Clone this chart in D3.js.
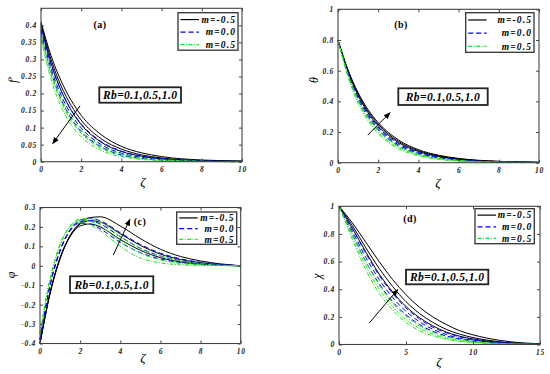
<!DOCTYPE html>
<html>
<head>
<meta charset="utf-8">
<script src="https://cdn.jsdelivr.net/npm/d3@7"></script>
<style>
  body { margin: 0; background: #fff; }
  text { font-family: "Liberation Serif", "Times New Roman", serif; }
</style>
</head>
<body>
<script>
// ---- data (one row per Rb = 0.1, 0.5, 1.0) ----

// (a) velocity f'
var zetaA = [0, 0.5, 1, 1.5, 2, 3, 4, 5, 6, 8, 10];
var fpMneg05 = [
  [0.410, 0.311, 0.237, 0.180, 0.136, 0.079, 0.045, 0.026, 0.015, 0.005, 0.002],
  [0.405, 0.300, 0.222, 0.165, 0.122, 0.067, 0.037, 0.020, 0.011, 0.003, 0.001],
  [0.400, 0.289, 0.209, 0.151, 0.109, 0.057, 0.030, 0.016, 0.008, 0.002, 0.001]
];
var fpM00 = [
  [0.390, 0.285, 0.208, 0.152, 0.111, 0.059, 0.031, 0.017, 0.009, 0.003, 0.001],
  [0.385, 0.274, 0.195, 0.139, 0.099, 0.050, 0.025, 0.013, 0.007, 0.002, 0.000],
  [0.380, 0.264, 0.183, 0.127, 0.088, 0.043, 0.020, 0.010, 0.005, 0.001, 0.000]
];
var fpM05 = [
  [0.375, 0.264, 0.186, 0.131, 0.092, 0.046, 0.023, 0.011, 0.006, 0.001, 0.000],
  [0.370, 0.254, 0.175, 0.120, 0.083, 0.039, 0.018, 0.009, 0.004, 0.001, 0.000],
  [0.360, 0.241, 0.162, 0.108, 0.073, 0.033, 0.015, 0.007, 0.003, 0.001, 0.000]
];

// (b) temperature theta
var zetaB = [0, 0.5, 1, 1.5, 2, 3, 4, 5, 6, 8, 10];
var thMneg05 = [
  [0.800, 0.593, 0.439, 0.325, 0.241, 0.132, 0.073, 0.040, 0.022, 0.007, 0.002],
  [0.800, 0.599, 0.448, 0.335, 0.251, 0.140, 0.079, 0.044, 0.025, 0.008, 0.002],
  [0.800, 0.605, 0.457, 0.345, 0.261, 0.149, 0.085, 0.049, 0.028, 0.009, 0.003]
];
var thM00 = [
  [0.800, 0.575, 0.414, 0.297, 0.214, 0.110, 0.057, 0.030, 0.015, 0.004, 0.001],
  [0.800, 0.581, 0.422, 0.306, 0.222, 0.117, 0.062, 0.033, 0.017, 0.005, 0.001],
  [0.800, 0.587, 0.430, 0.316, 0.232, 0.125, 0.067, 0.036, 0.019, 0.006, 0.002]
];
var thM05 = [
  [0.800, 0.558, 0.389, 0.272, 0.190, 0.092, 0.045, 0.022, 0.011, 0.003, 0.001],
  [0.800, 0.567, 0.401, 0.284, 0.201, 0.101, 0.051, 0.025, 0.013, 0.003, 0.001],
  [0.800, 0.575, 0.414, 0.297, 0.214, 0.110, 0.057, 0.030, 0.015, 0.004, 0.001]
];

// (c) concentration phi
var zetaC = [0, 0.5, 1, 1.5, 2, 2.5, 3, 4, 5, 6, 7, 8, 10];
var phMneg05 = [
  [-0.40, -0.14, 0.040, 0.150, 0.205, 0.215, 0.200, 0.135, 0.080, 0.042, 0.020, 0.009, 0.0],
  [-0.40, -0.14, 0.040, 0.155, 0.215, 0.232, 0.225, 0.165, 0.105, 0.060, 0.032, 0.016, 0.0],
  [-0.40, -0.145, 0.035, 0.155, 0.220, 0.248, 0.252, 0.205, 0.140, 0.085, 0.048, 0.025, 0.0]
];
var phM00 = [
  [-0.38, -0.10, 0.080, 0.180, 0.220, 0.215, 0.190, 0.120, 0.068, 0.035, 0.017, 0.008, 0.0],
  [-0.38, -0.10, 0.080, 0.185, 0.228, 0.232, 0.215, 0.150, 0.090, 0.050, 0.026, 0.012, 0.0],
  [-0.38, -0.10, 0.075, 0.185, 0.235, 0.245, 0.232, 0.170, 0.110, 0.065, 0.036, 0.018, 0.0]
];
var phM05 = [
  [-0.35, -0.07, 0.110, 0.200, 0.225, 0.210, 0.180, 0.100, 0.040, 0.015, 0.005, 0.002, 0.0],
  [-0.35, -0.07, 0.110, 0.205, 0.235, 0.228, 0.205, 0.125, 0.065, 0.030, 0.012, 0.005, 0.0],
  [-0.35, -0.07, 0.105, 0.205, 0.240, 0.242, 0.225, 0.150, 0.090, 0.050, 0.025, 0.011, 0.0]
];

// (d) microorganism chi
var zetaD = [0, 1, 2, 3, 4, 5, 6, 7, 8, 9, 10, 12, 15];
var chMneg05 = [
  [1, 0.84, 0.67, 0.51, 0.38, 0.275, 0.195, 0.135, 0.090, 0.060, 0.040, 0.015, 0.002],
  [1, 0.86, 0.70, 0.55, 0.42, 0.310, 0.225, 0.160, 0.110, 0.075, 0.050, 0.020, 0.003],
  [1, 0.88, 0.74, 0.60, 0.47, 0.360, 0.270, 0.200, 0.145, 0.100, 0.070, 0.030, 0.005]
];
var chM00 = [
  [1, 0.80, 0.60, 0.44, 0.31, 0.215, 0.145, 0.095, 0.062, 0.040, 0.025, 0.009, 0.001],
  [1, 0.82, 0.63, 0.47, 0.34, 0.240, 0.165, 0.110, 0.072, 0.046, 0.030, 0.011, 0.001],
  [1, 0.84, 0.66, 0.50, 0.37, 0.265, 0.185, 0.125, 0.085, 0.056, 0.036, 0.014, 0.002]
];
var chM05 = [
  [1, 0.76, 0.54, 0.37, 0.25, 0.160, 0.100, 0.062, 0.038, 0.023, 0.014, 0.005, 0.001],
  [1, 0.78, 0.57, 0.40, 0.275, 0.180, 0.118, 0.075, 0.046, 0.028, 0.017, 0.006, 0.001],
  [1, 0.80, 0.60, 0.43, 0.30, 0.205, 0.135, 0.088, 0.056, 0.035, 0.022, 0.008, 0.001]
];

var mLabels = ["m=-0.5", "m=0.0", "m=0.5"];
var rbLabel = "Rb=0.1,0.5,1.0";

// line styles for the three m values
var styles = [
  {color: "#000", dash: null},
  {color: "#0000ff", dash: "5,3"},
  {color: "#1ee61e", dash: "4,1.5,1,1.5"}
];

var svg = d3.select("body").append("svg")
    .attr("width", 550)
    .attr("height", 374);

svg.append("defs").append("marker")
    .attr("id", "arrow")
    .attr("viewBox", "0 0 10 10")
    .attr("refX", 9).attr("refY", 5)
    .attr("markerWidth", 7).attr("markerHeight", 7)
    .attr("orient", "auto")
  .append("path")
    .attr("d", "M0,1 L10,5 L0,9 z")
    .attr("fill", "#000");

var fmt = function(d) { return String(+d.toFixed(2)); };

var panels = [
  {l: 41, r: 242, t: 8.3, b: 161.7, xd: [0, 10], yd: [0, 0.45],
   xt: d3.range(0, 10.1, 2), yt: d3.range(0, 0.401, 0.05),
   z: zetaA, series: [fpMneg05, fpM00, fpM05],
   ylab: "f\u2032", ylabPos: [13, 80], xlabPos: [143, 186],
   tag: "(a)", tagPos: [100, 27.5],
   leg: [178, 12.7, 60, 37.5], rb: [99.3, 87.3, 81.7, 15.4],
   arrow: [[1.94, 0.164], [0.58, 0.053]]},
  {l: 338, r: 539, t: 9.3, b: 162.7, xd: [0, 10], yd: [0, 1],
   xt: d3.range(0, 10.1, 2), yt: d3.range(0, 1.01, 0.2),
   z: zetaB, series: [thMneg05, thM00, thM05],
   ylab: "\u03b8", ylabPos: [314, 80], xlabPos: [438, 187],
   tag: "(b)", tagPos: [401, 28],
   leg: [465.7, 12.7, 68.3, 39.6], rb: [398.3, 88.3, 89.4, 16.7],
   arrow: [[1.48, 0.18], [2.59, 0.326]]},
  {l: 40, r: 240.7, t: 207.5, b: 343.5, xd: [0, 10], yd: [-0.4, 0.3],
   xt: d3.range(0, 10.1, 2), yt: d3.range(-0.4, 0.301, 0.1),
   z: zetaC, series: [phMneg05, phM00, phM05],
   ylab: "\u03c6", ylabPos: [11, 275], xlabPos: [143, 362],
   tag: "(c)", tagPos: [140, 225],
   leg: [176.7, 212, 60, 32.3], rb: [70, 276.3, 83.3, 16.7],
   arrow: [[3.65, 0.055], [4.48, 0.239]]},
  {l: 339, r: 540, t: 206.3, b: 344.5, xd: [0, 15], yd: [0, 1],
   xt: d3.range(0, 15.1, 5), yt: d3.range(0, 1.01, 0.2),
   z: zetaD, series: [chMneg05, chM00, chM05],
   ylab: "\u03c7", ylabPos: [317, 276], xlabPos: [439, 366],
   tag: "(d)", tagPos: [410, 222],
   leg: [475, 208.7, 59.3, 35], rb: [406, 269.7, 82.3, 14.6],
   arrow: [[2.26, 0.156], [4.38, 0.397]]}
];

panels.forEach(function(p) {
  var x = d3.scaleLinear().domain(p.xd).range([p.l, p.r]);
  var y = d3.scaleLinear().domain(p.yd).range([p.b, p.t]);
  var g = svg.append("g");

  // curves: black, blue, green, three Rb values each
  var line = d3.line()
      .x(function(d, i) { return x(p.z[i]); })
      .y(function(d) { return y(d); })
      .curve(d3.curveMonotoneX);

  p.series.forEach(function(group, k) {
    group.forEach(function(vals) {
      g.append("path")
          .attr("d", line(vals))
          .attr("fill", "none")
          .attr("stroke", styles[k].color)
          .attr("stroke-width", 1)
          .attr("stroke-dasharray", styles[k].dash);
    });
  });

  // matlab style box with inward ticks on all four sides
  function styleAxis(sel) {
    sel.select(".domain").remove();
    sel.selectAll(".tick line").attr("stroke", "#444");
    sel.selectAll(".tick text")
        .attr("fill", "#222")
        .style("font-size", "7.5px")
        .style("font-weight", "bold")
        .style("font-style", "italic")
        .style("letter-spacing", "0.7px");
  }
  g.append("g").attr("transform", "translate(0," + p.b + ")")
      .call(d3.axisBottom(x).tickValues(p.xt).tickFormat(fmt).tickSize(-3).tickPadding(5))
      .call(styleAxis);
  g.append("g").attr("transform", "translate(0," + p.t + ")")
      .call(d3.axisTop(x).tickValues(p.xt).tickFormat("").tickSize(-3))
      .call(styleAxis);
  g.append("g").attr("transform", "translate(" + p.l + ",0)")
      .call(d3.axisLeft(y).tickValues(p.yt).tickFormat(fmt).tickSize(-3).tickPadding(4))
      .call(styleAxis);
  g.append("g").attr("transform", "translate(" + p.r + ",0)")
      .call(d3.axisRight(y).tickValues(p.yt).tickFormat("").tickSize(-3))
      .call(styleAxis);

  g.append("rect")
      .attr("x", p.l).attr("y", p.t)
      .attr("width", p.r - p.l).attr("height", p.b - p.t)
      .attr("fill", "none")
      .attr("stroke", "#444")
      .attr("stroke-width", 1.1);

  // axis labels
  g.append("text")
      .attr("transform", "translate(" + p.ylabPos[0] + "," + p.ylabPos[1] + ") rotate(-90)")
      .attr("text-anchor", "middle")
      .attr("dy", "0.35em")
      .style("font-size", "12px")
      .style("font-style", "italic")
      .text(p.ylab);
  g.append("text")
      .attr("x", p.xlabPos[0]).attr("y", p.xlabPos[1])
      .attr("text-anchor", "middle")
      .style("font-size", "13px")
      .style("font-style", "italic")
      .text("\u03b6");

  // panel tag
  g.append("text")
      .attr("x", p.tagPos[0]).attr("y", p.tagPos[1])
      .attr("text-anchor", "middle")
      .style("font-size", "10px")
      .style("font-weight", "bold")
      .style("letter-spacing", "0.5px")
      .text(p.tag);

  // legend
  var lg = g.append("g").attr("transform", "translate(" + p.leg[0] + "," + p.leg[1] + ")");
  lg.append("rect")
      .attr("width", p.leg[2]).attr("height", p.leg[3])
      .attr("fill", "#fff")
      .attr("stroke", "#333")
      .attr("stroke-width", 1.3);
  var rowH = p.leg[3] / 3;
  mLabels.forEach(function(lab, k) {
    var yy = rowH * (k + 0.55);
    lg.append("line")
        .attr("x1", 2.5).attr("x2", 21)
        .attr("y1", yy).attr("y2", yy)
        .attr("stroke", styles[k].color)
        .attr("stroke-width", 1.2)
        .attr("stroke-dasharray", styles[k].dash);
    lg.append("text")
        .attr("x", p.leg[2] - 2).attr("y", yy)
        .attr("dy", "0.35em")
        .attr("text-anchor", "end")
        .style("font-size", "9.5px")
        .style("font-weight", "bold")
        .style("font-style", "italic")
        .style("letter-spacing", "1.1px")
        .text(lab);
  });

  // Rb box
  g.append("rect")
      .attr("x", p.rb[0]).attr("y", p.rb[1])
      .attr("width", p.rb[2]).attr("height", p.rb[3])
      .attr("fill", "#fff")
      .attr("stroke", "#222")
      .attr("stroke-width", 1.8);
  g.append("text")
      .attr("x", p.rb[0] + p.rb[2] / 2).attr("y", p.rb[1] + p.rb[3] / 2)
      .attr("dy", "0.35em")
      .attr("text-anchor", "middle")
      .style("font-size", "11.5px")
      .style("font-weight", "bold")
      .style("font-style", "italic")
      .style("letter-spacing", "0.4px")
      .text(rbLabel);

  // arrow showing growing Rb
  g.append("line")
      .attr("x1", x(p.arrow[0][0])).attr("y1", y(p.arrow[0][1]))
      .attr("x2", x(p.arrow[1][0])).attr("y2", y(p.arrow[1][1]))
      .attr("stroke", "#000")
      .attr("stroke-width", 1)
      .attr("marker-end", "url(#arrow)");
});
</script>
</body>
</html>
